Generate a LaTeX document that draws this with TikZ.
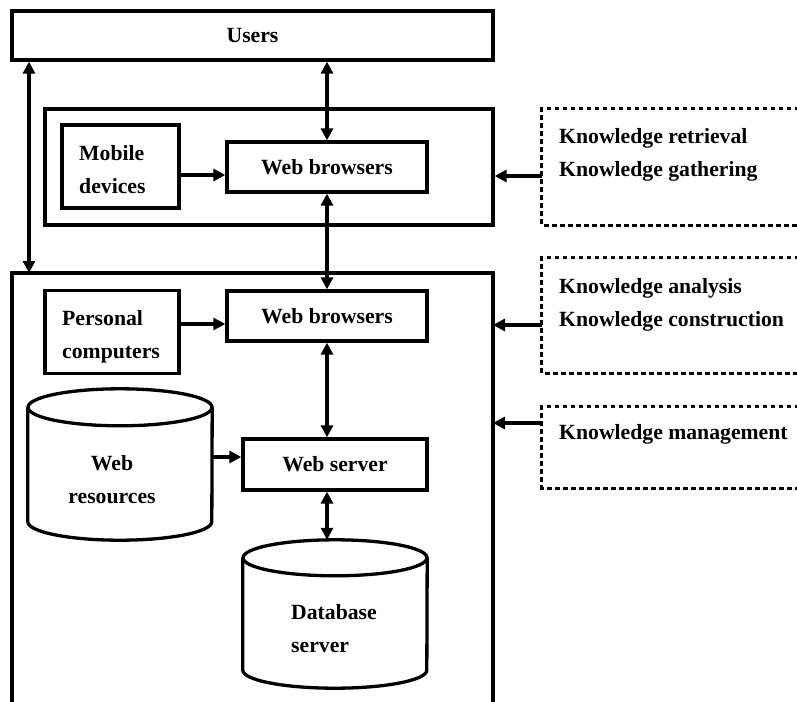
\documentclass[tikz,border=0pt]{standalone}
\usepackage{fontspec}
\setmainfont{Liberation Serif}
\usetikzlibrary{arrows.meta,calc}

\begin{document}
\begin{tikzpicture}[x=1pt,y=-1pt,
  every node/.style={font=\fontsize{21.7}{33}\selectfont\bfseries,inner sep=0pt},
  solidline/.style={line width=3.3pt},
  box/.style={draw,solidline},
  dashline/.style={line width=3.2pt,dash pattern=on 4.5pt off 3.5pt},
  txt/.style={align=left,anchor=north west},
  arr/.style={solidline,-{Triangle[length=12pt,width=12pt]}},
  darr/.style={solidline,{Triangle[length=12pt,width=12pt]}-{Triangle[length=12pt,width=12pt]}},
  region/.style={minimum width=257pt}
]
\useasboundingbox (0,0) rectangle (797,701);

% users
\node[box,minimum width=481pt,minimum height=49pt] (users) at (252.5,35.5) {Users};

% mobile side
\node[box,minimum width=448pt,minimum height=116pt] (mframe) at (269,167) {};
\node[box,minimum width=117pt,minimum height=83pt] (mobile) at (120.5,166.5) {};
\node[txt] (mobiletext) at (79,145.5) {Mobile\\devices};
\node[box,minimum width=200pt,minimum height=50pt] (br1) at (327,167) {Web browsers};

% desktop side (open at the bottom)
\coordinate (lowtl) at (12,273);
\coordinate (lowtr) at (493,273);
\coordinate (lowbl) at (12,704);
\coordinate (lowbr) at (493,704);
\draw[solidline] (lowbl) -- (lowtl) -- (lowtr) -- (lowbr);
\coordinate (llink) at (29,273);

\node[box,minimum width=134pt,minimum height=83pt] (pc) at (112,332) {};
\node[txt] (pctext) at (62,310.5) {Personal\\computers};
\node[box,minimum width=200pt,minimum height=50pt] (br2) at (327,316) {Web browsers};
\node[box,minimum width=184pt,minimum height=51pt] (ws) at (335,464.5) {Web server};

% storage cylinders
\node[minimum width=184pt,minimum height=151pt] (webres) at (120,464.5) {};
\draw[solidline] ($(webres.north west)+(0,18.5)$) -- ($(webres.south west)+(0,-18.5)$)
  arc[start angle=180,end angle=360,x radius=92pt,y radius=18.5pt]
  -- ($(webres.north east)+(0,18.5)$);
\draw[solidline] ($(webres.north)+(0,18.5)$) ellipse[x radius=92pt,y radius=18.5pt];
\node[align=center,anchor=north] (webrestext) at (112,455.5) {Web\\resources};

\node[minimum width=184pt,minimum height=148pt] (db) at (335,614) {};
\draw[solidline] ($(db.north west)+(0,18)$) -- ($(db.south west)+(0,-18)$)
  arc[start angle=180,end angle=360,x radius=92pt,y radius=18pt]
  -- ($(db.north east)+(0,18)$);
\draw[solidline] ($(db.north)+(0,18)$) ellipse[x radius=92pt,y radius=18pt];
\node[txt] (dbtext) at (291,604.5) {Database\\server};

% knowledge activities (open on the right)
\node[region,minimum height=116pt] (d1) at (670.5,167) {};
\node[region,minimum height=115pt] (d2) at (670.5,315.5) {};
\node[region,minimum height=81pt] (d3) at (670.5,447.5) {};
\foreach \d in {d1,d2,d3}
  \draw[dashline] (\d.north east) -- (\d.north west) -- (\d.south west) -- (\d.south east);
\node[txt] (k1) at (559,128) {Knowledge retrieval\\Knowledge gathering};
\node[txt] (k2) at (559,278) {Knowledge analysis\\Knowledge construction};
\node[txt] (k3) at (559,424.5) {Knowledge management};

% connectors
\draw[darr] (llink |- users.south) -- (llink);
\draw[darr] (br1.north |- users.south) -- (br1.north);
\draw[arr] ([yshift=-8pt]br1.west -| mobile.east) -- ([yshift=-8pt]br1.west);
\draw[darr] (br1.south) -- (br2.north);
\draw[arr] ([yshift=-8pt]br2.west -| pc.east) -- ([yshift=-8pt]br2.west);
\draw[darr] (br2.south) -- (br2.south |- ws.north);
\draw[arr] ([yshift=7.5pt]ws.west -| webres.east) -- ([yshift=7.5pt]ws.west);
\draw[darr] (br2.south |- ws.south) -- (br2.south |- db.north);
\draw[arr] ([yshift=-9pt]d1.west) -- ([yshift=-9pt]d1.west -| mframe.east);
\draw[arr] ([yshift=-9.5pt]d2.west) -- ([yshift=-9.5pt]d2.west -| lowtr);
\draw[arr] ([yshift=24.5pt]d3.west) -- ([yshift=24.5pt]d3.west -| lowtr);
\end{tikzpicture}
\end{document}
